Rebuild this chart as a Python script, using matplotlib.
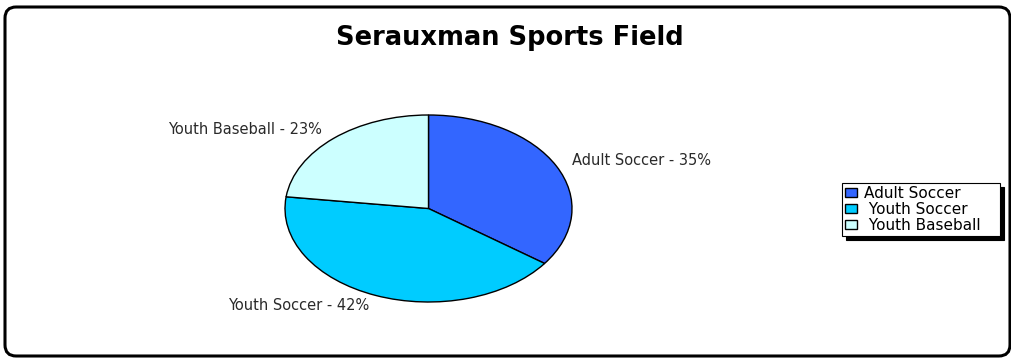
import matplotlib
matplotlib.use("Agg")
import matplotlib.pyplot as plt
from matplotlib.patches import FancyBboxPatch

# chart data
categories = ["Adult Soccer", "Youth Soccer", "Youth Baseball"]
legend_labels = ["Adult Soccer", " Youth Soccer", " Youth Baseball"]
shares = [35, 42, 23]
colors = ["#3366FF", "#00CCFF", "#CCFFFF"]
title = "Serauxman Sports Field"

W, H = 1011, 358
fig = plt.figure(figsize=(W / 100, H / 100), dpi=100)
fig.patch.set_facecolor("white")


def fx(px):
    return px / W


def fy(py):
    # pixel measured from top -> figure fraction
    return 1 - py / H


# rounded outer frame (behind everything)
frame = FancyBboxPatch((fx(5), fy(356)), fx(1005), 349 / H,
                       boxstyle="round,pad=0,rounding_size=0.011",
                       transform=fig.transFigure, facecolor="none",
                       edgecolor="black", linewidth=2.2, zorder=-5,
                       mutation_aspect=W / H)
fig.patches.append(frame)

fig.text(fx(510), fy(38), title, ha="center", va="center",
         fontsize=18.5, fontweight="bold", family="DejaVu Sans", color="black")

# elliptical pie: axes stretched, aspect left auto
ax = fig.add_axes([fx(285), fy(302), 287 / W, 187 / H])
labels = [f"{c} - {v}%" for c, v in zip(categories, shares)]
wedges, texts = ax.pie(shares, labels=labels, colors=colors, startangle=90,
                       counterclock=False, labeldistance=1.12,
                       wedgeprops=dict(edgecolor="black", linewidth=1.0),
                       textprops=dict(fontsize=10.5, color="#2a2a2a"))
ax.set_aspect("auto")
ax.set_xlim(-1, 1)
ax.set_ylim(-1, 1)
ax.axis("off")

leg = fig.legend(wedges, legend_labels, loc="upper left", mode="expand",
                 bbox_to_anchor=(fx(842), fy(235), 158 / W, 52 / H),
                 frameon=True, fancybox=False, edgecolor="black",
                 framealpha=1,
                 shadow={"ox": 3, "oy": -3, "color": "black", "alpha": 1},
                 fontsize=11, handlelength=0.75, handleheight=0.55,
                 handletextpad=0.5, labelspacing=0.05, borderpad=0.2,
                 borderaxespad=0)
leg.get_frame().set_linewidth(0.8)
for h in leg.legend_handles:
    h.set_edgecolor("black")
    h.set_linewidth(1.0)

fig.savefig("out.png", dpi=100)
